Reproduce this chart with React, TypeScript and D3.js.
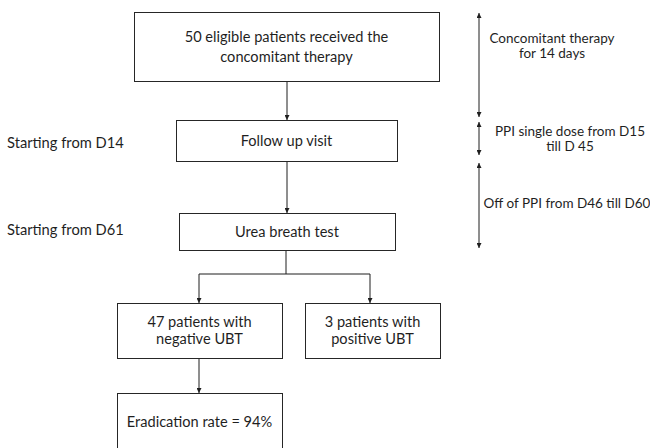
import React, { useEffect, useRef } from "react";
import * as d3 from "d3";

// text content of the flowchart
const boxLabels = [
  ["50 eligible patients received the", "concomitant therapy"],
  ["Follow up visit"],
  ["Urea breath test"],
  ["47 patients with", "negative UBT"],
  ["3 patients with", "positive UBT"],
  ["Eradication rate = 94%"],
];
const stageLabels = ["Starting from D14", "Starting from D61"];
const periodLabels = [
  ["Concomitant therapy", "for 14 days"],
  ["PPI single dose from D15", "till D 45"],
  ["Off of PPI from D46 till D60"],
];

// layout (pixels)
const boxRects = [
  { x: 134, y: 12, w: 305, h: 69 },
  { x: 176, y: 120, w: 221, h: 41 },
  { x: 179, y: 213, w: 216, h: 37 },
  { x: 117, y: 303, w: 165, h: 55 },
  { x: 305, y: 303, w: 135, h: 55 },
  { x: 117, y: 393, w: 165, h: 58 },
];
const stagePos = [
  { x: 7, y: 143 },
  { x: 7, y: 230 },
];
const timelineX = 479;
const periodSpans = [
  { y0: 13, y1: 117, tx: 552, ty: 38 },
  { y0: 122, y1: 155, tx: 570, ty: 131 },
  { y0: 163, y1: 248, tx: 567, ty: 203 },
];

const W = 650;
const H = 448;
const FONT = "Lato, 'Open Sans', sans-serif";
const INK = "#1f1f1f";

export default function App() {
  const ref = useRef<SVGSVGElement>(null);

  useEffect(() => {
    const svg = d3.select(ref.current);
    svg.selectAll("*").remove();

    const defs = svg.append("defs");
    defs
      .append("marker")
      .attr("id", "head")
      .attr("viewBox", "0 0 10 10")
      .attr("refX", 10)
      .attr("refY", 5)
      .attr("markerUnits", "userSpaceOnUse")
      .attr("markerWidth", 5)
      .attr("markerHeight", 5)
      .attr("orient", "auto-start-reverse")
      .append("path")
      .attr("d", "M0,0L10,5L0,10Z")
      .attr("fill", INK);

    const line = d3.line<[number, number]>();
    const mid = (i: number) => boxRects[i].x + boxRects[i].w / 2;
    const bottom = (i: number) => boxRects[i].y + boxRects[i].h;
    const branchY = 274;

    // connectors
    const arrows: [number, number][][] = [
      [[287, bottom(0)], [287, boxRects[1].y]],
      [[287, bottom(1)], [287, boxRects[2].y]],
      [[199, branchY], [199, boxRects[3].y]],
      [[370, branchY], [370, boxRects[4].y]],
      [[199, bottom(3)], [199, boxRects[5].y]],
    ];
    const plain: [number, number][][] = [
      [[286, bottom(2)], [286, branchY]],
      [[199, branchY], [370, branchY]],
    ];

    const g = svg.append("g");
    g.selectAll("path.arrow")
      .data(arrows)
      .join("path")
      .attr("class", "arrow")
      .attr("d", (d) => line(d))
      .attr("stroke", INK)
      .attr("stroke-width", 1)
      .attr("fill", "none")
      .attr("marker-end", "url(#head)");
    g.selectAll("path.plain")
      .data(plain)
      .join("path")
      .attr("class", "plain")
      .attr("d", (d) => line(d))
      .attr("stroke", INK)
      .attr("stroke-width", 1)
      .attr("fill", "none");

    // boxes
    const boxes = svg
      .append("g")
      .selectAll("g")
      .data(boxLabels)
      .join("g");
    boxes
      .append("rect")
      .attr("x", (_, i) => boxRects[i].x + 0.5)
      .attr("y", (_, i) => boxRects[i].y + 0.5)
      .attr("width", (_, i) => boxRects[i].w)
      .attr("height", (_, i) => boxRects[i].h)
      .attr("fill", "#fff")
      .attr("stroke", "#262626")
      .attr("stroke-width", 1);
    boxes
      .append("text")
      .attr("text-anchor", "middle")
      .attr("font-family", FONT)
      .attr("font-size", 14.6)
      .attr("fill", INK)
      .each(function (lines, i) {
        const r = boxRects[i];
        const lh = i === 0 ? 20 : 17.5;
        const cy = r.y + r.h / 2 - ((lines.length - 1) * lh) / 2;
        d3.select(this)
          .selectAll("tspan")
          .data(lines)
          .join("tspan")
          .attr("x", mid(i))
          .attr("y", (_, k) => cy + k * lh)
          .attr("dy", "0.35em")
          .text((d) => d);
      });

    // stage labels on the left
    svg
      .append("g")
      .selectAll("text")
      .data(stageLabels)
      .join("text")
      .attr("x", (_, i) => stagePos[i].x)
      .attr("y", (_, i) => stagePos[i].y)
      .attr("dy", "0.35em")
      .attr("font-family", FONT)
      .attr("font-size", 14.7)
      .attr("fill", INK)
      .text((d) => d);

    // timeline on the right
    const tl = svg.append("g");
    tl.selectAll("path")
      .data(periodSpans)
      .join("path")
      .attr("d", (d) => line([[timelineX, d.y0], [timelineX, d.y1]]))
      .attr("stroke", INK)
      .attr("stroke-width", 1)
      .attr("marker-start", "url(#head)")
      .attr("marker-end", "url(#head)");
    tl.selectAll("text")
      .data(periodLabels)
      .join("text")
      .attr("text-anchor", "middle")
      .attr("font-family", FONT)
      .attr("font-size", 13.5)
      .attr("fill", INK)
      .each(function (lines, i) {
        const s = periodSpans[i];
        d3.select(this)
          .selectAll("tspan")
          .data(lines)
          .join("tspan")
          .attr("x", s.tx)
          .attr("y", (_, k) => s.ty + k * 15)
          .attr("dy", "0.35em")
          .text((d) => d);
      });
  }, []);

  return (
    <svg
      ref={ref}
      width={W}
      height={H}
      style={{ position: "absolute", left: 0, top: 0, background: "#fff" }}
    />
  );
}
